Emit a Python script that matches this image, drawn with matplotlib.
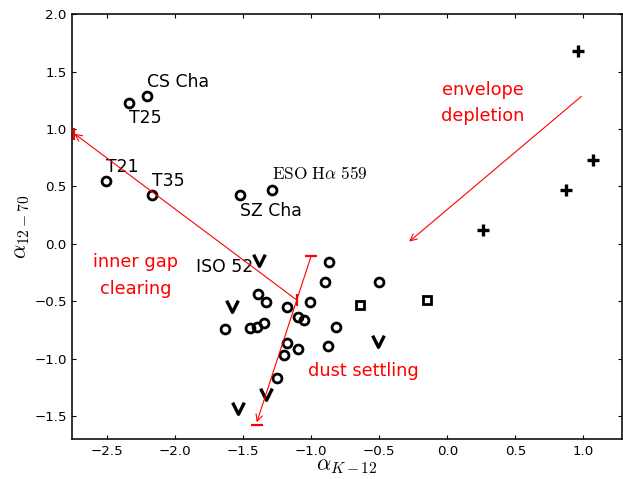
import numpy as np
import matplotlib.pyplot as plt
from matplotlib.path import Path

# disks (open circles), named ones first
circ_x = [-2.21, -2.34, -2.51, -2.17, -1.52, -1.29,
          -0.87, -0.90, -0.50, -1.39, -1.33, -1.18, -1.01, -1.10, -1.05,
          -1.63, -1.45, -1.40, -1.35, -0.82, -1.18, -1.10, -0.88, -1.20, -1.25]
circ_y = [1.29, 1.23, 0.55, 0.43, 0.43, 0.47,
          -0.16, -0.33, -0.33, -0.44, -0.51, -0.55, -0.51, -0.64, -0.66,
          -0.74, -0.73, -0.72, -0.69, -0.72, -0.86, -0.92, -0.89, -0.97, -1.17]
names = ['CS Cha', 'T25', 'T21', 'T35', 'SZ Cha', r'$\mathrm{ESO\ H\alpha\ 559}$']
name_dy = [0.12, -0.13, 0.12, 0.12, -0.14, 0.14]

sq_x = [-0.64, -0.15]
sq_y = [-0.53, -0.49]

plus_x = [0.96, 1.07, 0.87, 0.26]
plus_y = [1.68, 0.73, 0.47, 0.12]

# upper limits
lim_x = [-1.38, -1.58, -0.51, -1.33, -1.54]
lim_y = [-0.14, -0.54, -0.85, -1.31, -1.43]

plt.rcParams['mathtext.fontset'] = 'cm'
plt.rcParams['xtick.direction'] = 'in'
plt.rcParams['ytick.direction'] = 'in'
plt.rcParams['xtick.top'] = True
plt.rcParams['ytick.right'] = True
plt.rcParams['axes.linewidth'] = 1.4

fig = plt.figure(figsize=(623 / 80, 479 / 80), dpi=80)
ax = fig.add_axes([0.1161, 0.0835, 0.8826, 0.8866])

vee = Path([(-0.5, 0.5), (0, -0.5), (0.5, 0.5)],
           [Path.MOVETO, Path.LINETO, Path.LINETO])

ax.plot(circ_x, circ_y, 'o', mfc='none', mec='k', mew=2.5, ms=8)
ax.plot(sq_x, sq_y, 's', mfc='none', mec='k', mew=2.5, ms=8)
ax.plot(plus_x, plus_y, '+', color='k', mew=3, ms=10)
ax.plot(lim_x, lim_y, ls='none', marker=vee, mfc='none', mec='k', mew=3, ms=10.5)

for i, name in enumerate(names):
    ax.text(circ_x[i], circ_y[i] + name_dy[i], name, fontsize=15.5,
            ha='left', va='center')
ax.text(-1.85, -0.2, 'ISO 52', fontsize=15.5, ha='left', va='center')

# evolutionary arrows
red_arrow = dict(arrowstyle='->', color='red', lw=1, shrinkA=0, shrinkB=0,
                 mutation_scale=15)
ax.annotate('', xy=(-2.74, 0.96), xytext=(-1.105, -0.49), arrowprops=red_arrow)
ax.plot([-2.745, -1.105], [0.96, -0.49], ls='none', marker='|', color='red',
        ms=11, mew=2)
ax.annotate('', xy=(-1.40, -1.555), xytext=(-1.0, -0.105), arrowprops=red_arrow)
ax.plot([-1.0, -1.40], [-0.105, -1.58], ls='none', marker='_', color='red',
        ms=11, mew=2)
ax.annotate('', xy=(-0.28, 0.02), xytext=(0.985, 1.285), arrowprops=red_arrow)

ax.text(-2.29, -0.275, 'inner gap\nclearing', color='red', fontsize=16,
        ha='center', va='center', linespacing=1.65)
ax.text(-0.62, -1.11, 'dust settling', color='red', fontsize=16,
        ha='center', va='center')
ax.text(0.26, 1.23, 'envelope\ndepletion', color='red', fontsize=16,
        ha='center', va='center', linespacing=1.6)

ax.set_xlim(-2.755, 1.285)
ax.set_ylim(-1.7, 2.0)
ax.set_xticks(np.arange(-2.5, 1.01, 0.5))
ax.set_yticks(np.arange(-1.5, 2.01, 0.5))
ax.tick_params(labelsize=12, pad=5, length=4, width=1)
ax.set_xlabel(r'$\alpha_{K-12}$', fontsize=20, labelpad=-1)
ax.set_ylabel(r'$\alpha_{12-70}$', fontsize=20, labelpad=2)

fig.savefig('out.png', dpi=80)
